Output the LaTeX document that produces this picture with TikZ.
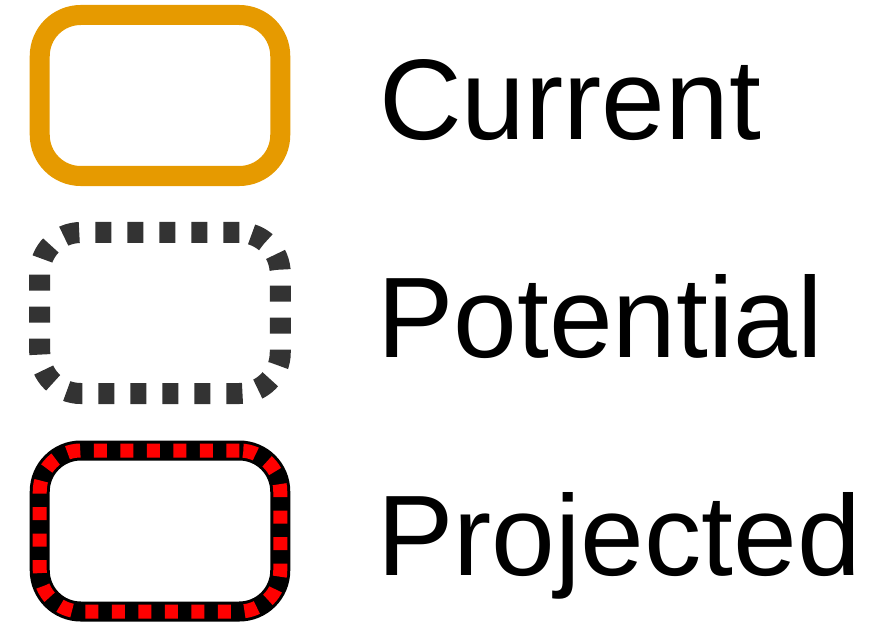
\documentclass[tikz,border=0pt]{standalone}
\usepackage{fontspec}
\setmainfont{Liberation Sans}
\definecolor{currentorange}{HTML}{E69A00}
\definecolor{potentialgray}{HTML}{333333}

\begin{document}
\begin{tikzpicture}[x=1bp, y=-1bp,
    legendbox/.style={rectangle, rounded corners=41bp, minimum width=240.5bp,
      minimum height=161bp, inner sep=0pt, outer sep=0pt},
    currentbox/.style={legendbox, draw=currentorange, line width=20bp},
    potentialbox/.style={legendbox, draw=potentialgray, line width=21bp,
      dash pattern=on 16bp off 16bp},
    projectedbox/.style={legendbox, draw=black, line width=20bp,
      postaction={draw=red, line width=14bp, dash pattern=on 13bp off 13.5bp}},
    legendtext/.style={anchor=base west, inner sep=0pt,
      font=\fontsize{115}{130}\selectfont}]
    \useasboundingbox (0,0) rectangle (873,627);

    % boxes
    \node[currentbox] (current) at (160,95.5) {};
    \node[potentialbox] (potential) at (160,313) {};
    \node[projectedbox] (projected) at (160,531) {};

    % texts
    \node[legendtext] (currenttext) at (379,140) {Current};
    \node[legendtext] (potentialtext) at (377,357) {Potential};
    \node[legendtext] (projectedtext) at (377,575) {Projected};

  \end{tikzpicture}
\end{document}
